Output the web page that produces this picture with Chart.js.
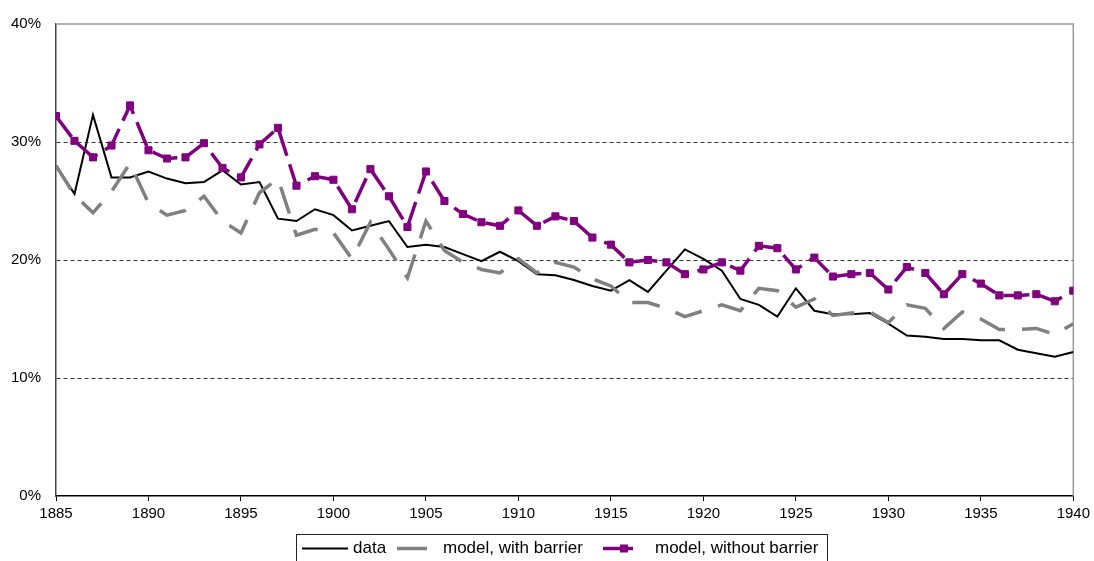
<!DOCTYPE html>
<html>
<head>
<meta charset="utf-8">
<script src="https://cdn.jsdelivr.net/npm/chart.js@4/dist/chart.umd.min.js"></script>
<style>
  html, body { margin: 0; padding: 0; background: #fff; }
  canvas { display: block; }
</style>
</head>
<body>
<canvas id="chart" width="1094" height="561"></canvas>
<script>
const years = [
  1885, 1886, 1887, 1888, 1889, 1890, 1891, 1892, 1893, 1894,
  1895, 1896, 1897, 1898, 1899, 1900, 1901, 1902, 1903, 1904,
  1905, 1906, 1907, 1908, 1909, 1910, 1911, 1912, 1913, 1914,
  1915, 1916, 1917, 1918, 1919, 1920, 1921, 1922, 1923, 1924,
  1925, 1926, 1927, 1928, 1929, 1930, 1931, 1932, 1933, 1934,
  1935, 1936, 1937, 1938, 1939, 1940
];

// observed share, %
const observed = [
  28.0, 25.6, 32.3, 27.0, 27.0, 27.5, 26.9, 26.5, 26.6, 27.6,
  26.4, 26.6, 23.5, 23.3, 24.3, 23.8, 22.5, 22.9, 23.3, 21.1,
  21.3, 21.1, 20.5, 19.9, 20.7, 19.9, 18.8, 18.7, 18.3, 17.8,
  17.4, 18.3, 17.3, 19.1, 20.9, 20.1, 19.1, 16.7, 16.2, 15.2,
  17.6, 15.7, 15.4, 15.4, 15.5, 14.6, 13.6, 13.5, 13.3, 13.3,
  13.2, 13.2, 12.4, 12.1, 11.8, 12.2
];

const withBarrier = [
  28.0, 25.5, 24.0, 25.8, 28.2, 24.8, 23.8, 24.2, 25.4, 23.3,
  22.3, 25.7, 26.9, 22.1, 22.6, 22.3, 20.1, 23.2, 20.9, 18.5,
  23.3, 20.8, 19.8, 19.2, 18.9, 20.1, 18.9, 19.8, 19.4, 18.4,
  17.8, 16.4, 16.4, 15.9, 15.2, 15.7, 16.2, 15.7, 17.6, 17.4,
  16.0, 16.7, 15.3, 15.5, 15.6, 14.7, 16.2, 15.9, 14.2, 15.6,
  15.0, 14.1, 14.1, 14.2, 13.7, 14.6
];

const withoutBarrier = [
  32.2, 30.1, 28.7, 29.7, 33.1, 29.3, 28.6, 28.7, 29.9, 27.8,
  27.0, 29.8, 31.2, 26.3, 27.1, 26.8, 24.3, 27.7, 25.4, 22.8,
  27.5, 25.0, 23.9, 23.2, 22.9, 24.2, 22.9, 23.7, 23.3, 21.9,
  21.3, 19.8, 20.0, 19.8, 18.8, 19.2, 19.8, 19.1, 21.2, 21.0,
  19.2, 20.2, 18.6, 18.8, 18.9, 17.5, 19.4, 18.9, 17.1, 18.8,
  18.0, 17.0, 17.0, 17.1, 16.5, 17.4
];

const seriesNames = ["data", "model, with barrier", "model, without barrier"];
const yTicks = [0, 10, 20, 30, 40];

const FONT = "'Liberation Sans', Arial, sans-serif";
const toPoints = vals => vals.map((v, i) => ({ x: years[i], y: v }));

// gray frame on top / right of the plot area
const frame = {
  id: "frame",
  beforeDatasetsDraw(chart) {
    const { ctx, chartArea: a } = chart;
    ctx.save();
    ctx.strokeStyle = "#9a9a9a";
    ctx.lineWidth = 1.5;
    ctx.beginPath();
    ctx.moveTo(a.left, a.top);
    ctx.lineTo(a.right, a.top);
    ctx.lineTo(a.right, a.bottom);
    ctx.stroke();
    ctx.restore();
  }
};

// boxed legend under the axis, like the spreadsheet one
const boxLegend = {
  id: "boxLegend",
  afterDraw(chart) {
    const ctx = chart.ctx;
    const y = 548.5;
    ctx.save();
    ctx.strokeStyle = "#222";
    ctx.lineWidth = 1;
    ctx.strokeRect(296.5, 534.5, 531, 40);

    ctx.lineCap = "butt";
    ctx.strokeStyle = "#000";
    ctx.lineWidth = 2;
    ctx.beginPath(); ctx.moveTo(302, y); ctx.lineTo(348, y); ctx.stroke();

    ctx.strokeStyle = "#808080";
    ctx.lineWidth = 3.5;
    ctx.beginPath(); ctx.moveTo(397, y); ctx.lineTo(427, y); ctx.stroke();

    ctx.strokeStyle = "#800080";
    ctx.beginPath(); ctx.moveTo(603, y); ctx.lineTo(633, y); ctx.stroke();
    ctx.fillStyle = "#800080";
    ctx.fillRect(620, y - 4, 8, 8);

    ctx.fillStyle = "#000";
    ctx.font = "17px " + FONT;
    ctx.textBaseline = "middle";
    ctx.textAlign = "left";
    ctx.fillText(seriesNames[0], 353, y);
    ctx.fillText(seriesNames[1], 443, y);
    ctx.fillText(seriesNames[2], 655, y);
    ctx.restore();
  }
};

new Chart(document.getElementById("chart").getContext("2d"), {
  type: "line",
  data: {
    datasets: [
      {
        label: seriesNames[0],
        data: toPoints(observed),
        borderColor: "#000",
        borderWidth: 2,
        pointRadius: 0,
        tension: 0,
        order: 3
      },
      {
        label: seriesNames[1],
        data: toPoints(withBarrier),
        borderColor: "#808080",
        borderWidth: 3.5,
        borderDash: [28, 17],
        borderCapStyle: "butt",
        pointRadius: 0,
        tension: 0,
        order: 2
      },
      {
        label: seriesNames[2],
        data: toPoints(withoutBarrier),
        borderColor: "#800080",
        borderWidth: 3.5,
        borderDash: [26, 9],
        borderCapStyle: "butt",
        pointStyle: "rect",
        pointRadius: 5,
        pointBorderWidth: 1,
        pointBackgroundColor: "#800080",
        pointBorderColor: "#800080",
        tension: 0,
        order: 1
      }
    ]
  },
  options: {
    responsive: false,
    animation: false,
    devicePixelRatio: 1,
    layout: { padding: { top: 17, right: 20, left: 0, bottom: 0 } },
    plugins: {
      legend: { display: false },
      tooltip: { enabled: false }
    },
    scales: {
      x: {
        type: "linear",
        min: years[0],
        max: years[years.length - 1],
        afterFit: s => { s.height = 65; },
        afterBuildTicks: s => {
          s.ticks = years.filter(y => y % 5 === 0).map(v => ({ value: v }));
        },
        ticks: {
          callback: v => String(v),
          color: "#000",
          padding: 4,
          maxRotation: 0,
          font: { family: FONT, size: 15 }
        },
        grid: {
          drawOnChartArea: false,
          drawTicks: true,
          tickLength: 5,
          tickColor: "#000",
          tickWidth: 1
        },
        border: { color: "#000", width: 1.5 }
      },
      y: {
        min: 0,
        max: 40,
        afterFit: s => { s.width = 56; },
        afterBuildTicks: s => { s.ticks = yTicks.map(v => ({ value: v })); },
        ticks: {
          callback: v => v + "%",
          color: "#000",
          padding: 15,
          font: { family: FONT, size: 15 }
        },
        grid: {
          drawTicks: false,
          color: c => (c.tick && c.tick.value > 0 && c.tick.value < 40) ? "#333" : "rgba(0,0,0,0)",
          lineWidth: 1
        },
        border: { color: "#444", width: 1.5, dash: [4, 3] }
      }
    }
  },
  plugins: [frame, boxLegend]
});
</script>
</body>
</html>
